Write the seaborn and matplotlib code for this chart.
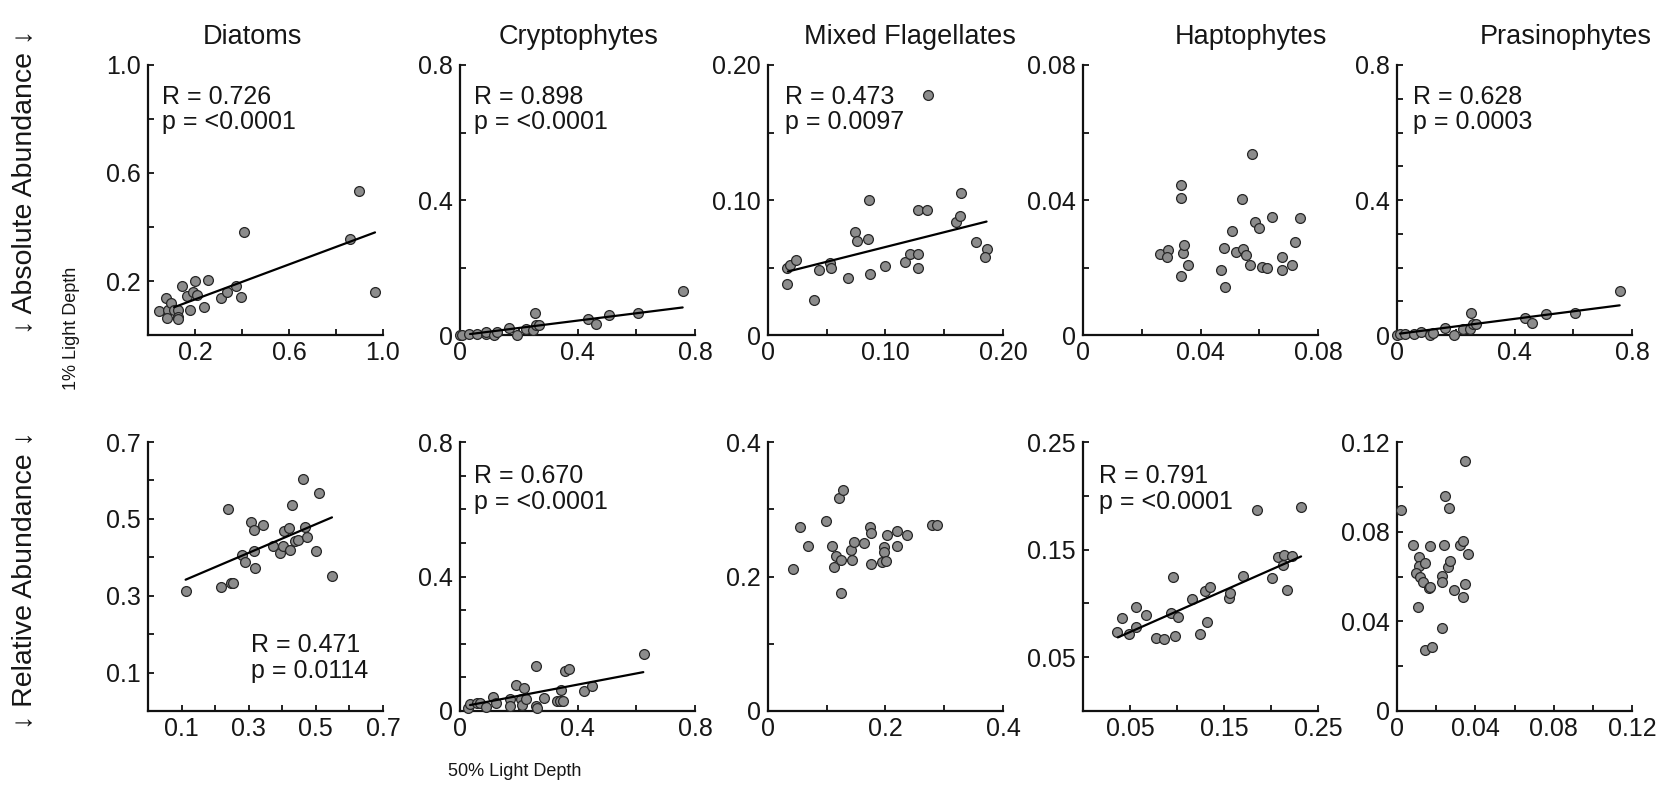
import numpy as np
import matplotlib
matplotlib.use("Agg")
import matplotlib.pyplot as plt
import seaborn as sns

# ---------------- data ----------------
groups = ["Diatoms", "Cryptophytes", "Mixed Flagellates", "Haptophytes", "Prasinophytes"]
row_labels = ["\u2193 Absolute Abundance \u2193", "\u2193 Relative Abundance \u2193"]

# Absolute abundance row
diat_abs_x = [0.045, 0.076, 0.084, 0.080, 0.098, 0.111, 0.129, 0.129, 0.129, 0.143, 0.167, 0.179, 0.190,
              0.200, 0.207, 0.238, 0.254, 0.309, 0.337, 0.374, 0.394, 0.408, 0.860, 0.897, 0.966]
diat_abs_y = [0.088, 0.137, 0.091, 0.063, 0.118, 0.093, 0.093, 0.068, 0.058, 0.180, 0.143, 0.093, 0.159,
              0.200, 0.147, 0.103, 0.205, 0.138, 0.159, 0.180, 0.140, 0.381, 0.357, 0.532, 0.159]
diat_abs_fit = [0.111, 0.966, 0.324, 0.067]          # x0, x1, slope, intercept
diat_abs_stat = "R = 0.726\np = <0.0001"

cryp_abs_x = [0.0, 0.007, 0.032, 0.057, 0.089, 0.089, 0.116, 0.125, 0.168, 0.195, 0.225, 0.247, 0.255,
              0.259, 0.270, 0.437, 0.462, 0.507, 0.607, 0.758]
cryp_abs_y = [0.0, 0.0, 0.002, 0.002, 0.002, 0.010, 0.0, 0.008, 0.020, 0.0, 0.017, 0.015, 0.064,
              0.030, 0.030, 0.047, 0.034, 0.060, 0.065, 0.129]
cryp_abs_fit = [0.034, 0.758, 0.109, -0.001]
cryp_abs_stat = "R = 0.898\np = <0.0001"

mixf_abs_x = [0.0162, 0.0184, 0.0241, 0.0165, 0.039, 0.043, 0.053, 0.054, 0.068, 0.074, 0.076, 0.085,
              0.086, 0.087, 0.100, 0.117, 0.121, 0.128, 0.128, 0.128, 0.135, 0.136, 0.160, 0.163,
              0.164, 0.177, 0.186, 0.185]
mixf_abs_y = [0.0496, 0.0521, 0.0558, 0.038, 0.026, 0.048, 0.053, 0.050, 0.042, 0.076, 0.070, 0.071,
              0.100, 0.045, 0.051, 0.054, 0.060, 0.060, 0.050, 0.0926, 0.0926, 0.178, 0.084, 0.088,
              0.105, 0.069, 0.064, 0.058]
mixf_abs_fit = [0.017, 0.186, 0.219, 0.0433]
mixf_abs_stat = "R = 0.473\np = 0.0097"

hapt_abs_x = [0.0263, 0.0288, 0.0286, 0.0333, 0.0333, 0.0339, 0.0345, 0.0359, 0.0333, 0.0469, 0.0484,
              0.0481, 0.0506, 0.0520, 0.0542, 0.0546, 0.0555, 0.0568, 0.0574, 0.0585, 0.0599, 0.0610,
              0.0628, 0.0644, 0.0678, 0.0678, 0.0713, 0.0723, 0.0740]
hapt_abs_y = [0.0240, 0.0252, 0.0232, 0.0444, 0.0407, 0.0242, 0.0267, 0.0207, 0.0176, 0.0194, 0.0141,
              0.0258, 0.0308, 0.0245, 0.0404, 0.0255, 0.0238, 0.0208, 0.0536, 0.0336, 0.0318, 0.0202,
              0.0200, 0.0351, 0.0232, 0.0194, 0.0208, 0.0275, 0.0346]
hapt_abs_fit = None
hapt_abs_stat = None

pras_abs_x = [0.0, 0.009, 0.028, 0.057, 0.083, 0.111, 0.122, 0.165, 0.194, 0.225, 0.247, 0.253, 0.259,
              0.268, 0.437, 0.460, 0.506, 0.607, 0.758]
pras_abs_y = [0.0, 0.002, 0.004, 0.004, 0.010, 0.0, 0.007, 0.022, 0.0, 0.019, 0.017, 0.065, 0.032,
              0.032, 0.049, 0.036, 0.061, 0.066, 0.131]
pras_abs_fit = [0.010, 0.758, 0.112, 0.003]
pras_abs_stat = "R = 0.628\np = 0.0003"

# Relative abundance row
diat_rel_x = [0.112, 0.216, 0.239, 0.246, 0.253, 0.280, 0.290, 0.307, 0.315, 0.317, 0.320, 0.342, 0.372,
              0.394, 0.402, 0.406, 0.419, 0.424, 0.429, 0.437, 0.447, 0.463, 0.468, 0.475, 0.500, 0.508, 0.548]
diat_rel_y = [0.311, 0.322, 0.526, 0.332, 0.332, 0.406, 0.387, 0.491, 0.470, 0.416, 0.372, 0.483, 0.429,
              0.411, 0.429, 0.468, 0.477, 0.419, 0.537, 0.442, 0.446, 0.603, 0.480, 0.452, 0.416, 0.567, 0.352]
diat_rel_fit = [0.112, 0.548, 0.372, 0.300]
diat_rel_stat = "R = 0.471\np = 0.0114"

cryp_rel_x = [0.028, 0.034, 0.059, 0.068, 0.088, 0.113, 0.122, 0.170, 0.170, 0.190, 0.206, 0.210, 0.217,
              0.224, 0.260, 0.260, 0.262, 0.286, 0.330, 0.339, 0.351, 0.343, 0.359, 0.370, 0.422, 0.450, 0.626]
cryp_rel_y = [0.008, 0.020, 0.025, 0.025, 0.013, 0.041, 0.025, 0.035, 0.015, 0.078, 0.035, 0.018, 0.068,
              0.035, 0.134, 0.015, 0.010, 0.040, 0.030, 0.030, 0.030, 0.063, 0.120, 0.125, 0.060, 0.073, 0.169]
cryp_rel_fit = [0.034, 0.624, 0.166, 0.012]
cryp_rel_stat = "R = 0.670\np = <0.0001"

mixf_rel_x = [0.042, 0.054, 0.068, 0.099, 0.109, 0.112, 0.116, 0.121, 0.125, 0.128, 0.125, 0.142, 0.143,
              0.146, 0.163, 0.174, 0.175, 0.175, 0.194, 0.197, 0.198, 0.201, 0.202, 0.219, 0.220, 0.236,
              0.280, 0.287]
mixf_rel_y = [0.211, 0.274, 0.245, 0.282, 0.246, 0.214, 0.230, 0.317, 0.225, 0.329, 0.176, 0.240, 0.224,
              0.251, 0.250, 0.274, 0.264, 0.219, 0.221, 0.244, 0.236, 0.223, 0.262, 0.267, 0.246, 0.262,
              0.276, 0.277]
mixf_rel_fit = None
mixf_rel_stat = None

hapt_rel_x = [0.0363, 0.0415, 0.0493, 0.0567, 0.0567, 0.0669, 0.0778, 0.0863, 0.0933, 0.0954, 0.0979,
              0.1007, 0.1155, 0.1243, 0.1303, 0.1320, 0.1349, 0.1549, 0.1567, 0.1701, 0.1852, 0.2011,
              0.2077, 0.2123, 0.2141, 0.2165, 0.2222, 0.2317]
hapt_rel_y = [0.0731, 0.0864, 0.0715, 0.0963, 0.0777, 0.0895, 0.0675, 0.0669, 0.0910, 0.1241, 0.0700,
              0.0870, 0.1040, 0.0715, 0.1118, 0.0824, 0.1155, 0.1050, 0.1093, 0.1251, 0.1867, 0.1235,
              0.1427, 0.1356, 0.1452, 0.1124, 0.1437, 0.1892]
hapt_rel_fit = [0.037, 0.232, 0.386, 0.0541]
hapt_rel_stat = "R = 0.791\np = <0.0001"

pras_rel_x = [0.0020, 0.0080, 0.0110, 0.0114, 0.0097, 0.0119, 0.0107, 0.0132, 0.0144, 0.0141, 0.0161,
              0.0166, 0.0166, 0.0178, 0.0229, 0.0229, 0.0229, 0.0241, 0.0246, 0.0263, 0.0260, 0.0272,
              0.0292, 0.0322, 0.0336, 0.0336, 0.0348, 0.0345, 0.0365]
pras_rel_y = [0.0896, 0.0739, 0.0687, 0.0649, 0.0616, 0.0597, 0.0463, 0.0575, 0.0661, 0.0273, 0.0549,
              0.0555, 0.0734, 0.0287, 0.0604, 0.0575, 0.0369, 0.0739, 0.0960, 0.0906, 0.0642, 0.0669,
              0.0542, 0.0742, 0.0758, 0.0510, 0.0567, 0.1116, 0.0699]
pras_rel_fit = None
pras_rel_stat = None

# axis ticks: (tick values, tick labels)
diat_abs_ticks = ([0, 0.2, 0.4, 0.6, 0.8, 1.0], ["", "0.2", "", "0.6", "", "1.0"])
cryp_abs_ticks_x = ([0, 0.2, 0.4, 0.6, 0.8], ["0", "", "0.4", "", "0.8"])
mixf_abs_ticks = ([0, 0.05, 0.10, 0.15, 0.20], ["0", "", "0.10", "", "0.20"])
hapt_abs_ticks = ([0, 0.02, 0.04, 0.06, 0.08], ["0", "", "0.04", "", "0.08"])
fine_08_ticks = ([0, 0.1, 0.2, 0.3, 0.4, 0.5, 0.6, 0.7, 0.8], ["0", "", "", "", "0.4", "", "", "", "0.8"])
diat_rel_ticks = ([0, 0.1, 0.2, 0.3, 0.4, 0.5, 0.6, 0.7], ["", "0.1", "", "0.3", "", "0.5", "", "0.7"])
mixf_rel_ticks_y = ([0, 0.1, 0.2, 0.3, 0.4], ["0", "", "0.2", "", "0.4"])
mixf_rel_ticks_x = ([0, 0.1, 0.2, 0.3, 0.4], ["0", "", "0.2", "", "0.4"])
hapt_rel_ticks = ([0, 0.05, 0.10, 0.15, 0.20, 0.25], ["", "0.05", "", "0.15", "", "0.25"])
pras_rel_ticks = ([0, 0.02, 0.04, 0.06, 0.08, 0.10, 0.12], ["0", "", "0.04", "", "0.08", "", "0.12"])

panels = [
    # row 0
    dict(x=diat_abs_x, y=diat_abs_y, fit=diat_abs_fit, stat=diat_abs_stat, xt=diat_abs_ticks, yt=diat_abs_ticks),
    dict(x=cryp_abs_x, y=cryp_abs_y, fit=cryp_abs_fit, stat=cryp_abs_stat, xt=cryp_abs_ticks_x, yt=cryp_abs_ticks_x),
    dict(x=mixf_abs_x, y=mixf_abs_y, fit=mixf_abs_fit, stat=mixf_abs_stat, xt=mixf_abs_ticks, yt=mixf_abs_ticks),
    dict(x=hapt_abs_x, y=hapt_abs_y, fit=hapt_abs_fit, stat=hapt_abs_stat, xt=hapt_abs_ticks, yt=hapt_abs_ticks),
    dict(x=pras_abs_x, y=pras_abs_y, fit=pras_abs_fit, stat=pras_abs_stat, xt=cryp_abs_ticks_x, yt=fine_08_ticks),
    # row 1
    dict(x=diat_rel_x, y=diat_rel_y, fit=diat_rel_fit, stat=diat_rel_stat, xt=diat_rel_ticks, yt=diat_rel_ticks),
    dict(x=cryp_rel_x, y=cryp_rel_y, fit=cryp_rel_fit, stat=cryp_rel_stat, xt=cryp_abs_ticks_x, yt=fine_08_ticks),
    dict(x=mixf_rel_x, y=mixf_rel_y, fit=mixf_rel_fit, stat=mixf_rel_stat, xt=mixf_rel_ticks_x, yt=mixf_rel_ticks_y),
    dict(x=hapt_rel_x, y=hapt_rel_y, fit=hapt_rel_fit, stat=hapt_rel_stat, xt=hapt_rel_ticks, yt=hapt_rel_ticks),
    dict(x=pras_rel_x, y=pras_rel_y, fit=pras_rel_fit, stat=pras_rel_stat, xt=pras_rel_ticks, yt=pras_rel_ticks),
]

# ---------------- styling / layout ----------------
sns.set_theme(style="ticks")
plt.rcParams["font.family"] = ["Liberation Sans", "DejaVu Sans"]
TXT = "#161616"

W, H = 1665, 786
fig = plt.figure(figsize=(W / 100, H / 100), dpi=100, facecolor="white")

lefts_px = [148, 460, 768, 1083, 1397]
width_px = 235
rows_px = [(65, 335), (442, 711)]  # (top, bottom)

stat_pos = {0: (0.06, 0.835), 1: (0.06, 0.835), 2: (0.072, 0.835), 4: (0.068, 0.835),
            5: (0.44, 0.198), 6: (0.06, 0.826), 8: (0.068, 0.826)}

for i, p in enumerate(panels):
    r, c = divmod(i, 5)
    top, bot = rows_px[r]
    ax = fig.add_axes([lefts_px[c] / W, 1 - bot / H, width_px / W, (bot - top) / H])
    ax.set_facecolor("white")
    sns.scatterplot(x=p["x"], y=p["y"], ax=ax, s=50, color="#8c8c8c",
                    edgecolor="#262626", linewidth=0.9, zorder=3, clip_on=False)
    if p["fit"] is not None:
        x0, x1, m, b = p["fit"]
        fx = np.array([x0, x1])
        sns.lineplot(x=fx, y=m * fx + b, ax=ax, color="black", linewidth=1.6, zorder=4)
    xt, xl = p["xt"]
    yt, yl = p["yt"]
    ax.set_xlim(xt[0], xt[-1])
    ax.set_ylim(yt[0], yt[-1])
    ax.set_xticks(xt)
    ax.set_xticklabels(xl)
    ax.set_yticks(yt)
    ax.set_yticklabels(yl)
    for side in ["top", "right"]:
        ax.spines[side].set_visible(False)
    for side in ["left", "bottom"]:
        ax.spines[side].set_linewidth(1.6)
        ax.spines[side].set_color("#111111")
    ax.tick_params(direction="in", length=4, width=1.3, labelsize=18, colors="#111111",
                   labelcolor=TXT)
    ax.tick_params(axis="x", pad=4)
    ax.tick_params(axis="y", pad=5)
    if p["stat"] is not None:
        sx, sy = stat_pos[i]
        ax.text(sx, sy, p["stat"], transform=ax.transAxes, ha="left", va="center",
                fontsize=18, color=TXT, linespacing=1.1)

# column titles
title_x_px = [252, 579, 910, 1251, 1566]
for g, tx in zip(groups, title_x_px):
    fig.text(tx / W, 1 - 37 / H, g, ha="center", va="center", fontsize=19.5, color=TXT)

# row labels
fig.text(25 / W, 1 - 182 / H, row_labels[0], rotation=90, ha="center", va="center",
         fontsize=20.5, color=TXT)
fig.text(25 / W, 1 - 580 / H, row_labels[1], rotation=90, ha="center", va="center",
         fontsize=20.5, color=TXT)

# axis descriptors
fig.text(72 / W, 1 - 328 / H, "1% Light Depth", rotation=90, ha="center", va="center",
         fontsize=13, color=TXT)
fig.text(515 / W, 1 - 772 / H, "50% Light Depth", ha="center", va="center",
         fontsize=13, color=TXT)

fig.savefig("out.png", dpi=100, facecolor="white")
